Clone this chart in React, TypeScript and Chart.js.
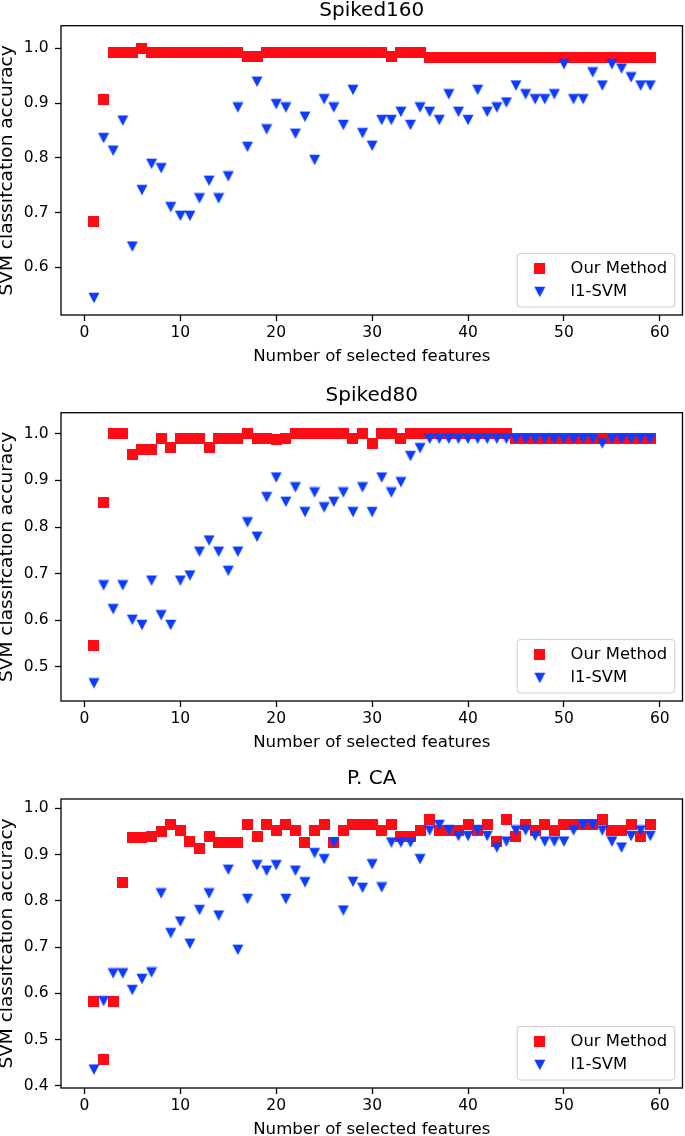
import React, { useEffect, useRef } from 'react';
import { Chart, registerables } from 'chart.js';

Chart.register(...registerables);

// ---------------- data ----------------
const features = [
  1, 2, 3, 4, 5, 6, 7, 8, 9, 10, 11, 12, 13, 14, 15, 16, 17, 18, 19, 20,
  21, 22, 23, 24, 25, 26, 27, 28, 29, 30, 31, 32, 33, 34, 35, 36, 37, 38, 39, 40,
  41, 42, 43, 44, 45, 46, 47, 48, 49, 50, 51, 52, 53, 54, 55, 56, 57, 58, 59,
];

// Spiked160
const ours1 = [
  0.684, 0.906, 0.992, 0.992, 0.992, 1.0, 0.992, 0.992, 0.992, 0.992,
  0.992, 0.992, 0.992, 0.992, 0.992, 0.992, 0.985, 0.985, 0.992, 0.992,
  0.992, 0.992, 0.992, 0.992, 0.992, 0.992, 0.992, 0.992, 0.992, 0.992,
  0.992, 0.985, 0.993, 0.993, 0.993, 0.984, 0.984, 0.984, 0.984, 0.984,
  0.984, 0.984, 0.984, 0.984, 0.984, 0.984, 0.984, 0.984, 0.984, 0.984,
  0.984, 0.984, 0.984, 0.984, 0.984, 0.984, 0.984, 0.984, 0.984,
];
const svm1 = [
  0.544, 0.836, 0.813, 0.868, 0.638, 0.741, 0.789, 0.781, 0.71, 0.694,
  0.694, 0.726, 0.758, 0.726, 0.766, 0.892, 0.82, 0.939, 0.852, 0.898,
  0.892, 0.844, 0.875, 0.796, 0.907, 0.892, 0.86, 0.924, 0.845, 0.822,
  0.869, 0.869, 0.884, 0.86, 0.892, 0.884, 0.869, 0.916, 0.884, 0.869,
  0.924, 0.884, 0.892, 0.901, 0.932, 0.916, 0.907, 0.907, 0.916, 0.971,
  0.907, 0.907, 0.956, 0.932, 0.971, 0.963, 0.947, 0.932, 0.932,
];

// Spiked80
const ours2 = [
  0.547, 0.852, 1.0, 1.0, 0.956, 0.966, 0.966, 0.99, 0.97, 0.989,
  0.99, 0.99, 0.97, 0.989, 0.989, 0.99, 1.0, 0.99, 0.99, 0.987,
  0.99, 1.0, 1.0, 1.0, 1.0, 1.0, 1.0, 0.99, 1.0, 0.979,
  1.0, 1.0, 0.989, 1.0, 1.0, 1.0, 1.0, 1.0, 1.0, 1.0,
  1.0, 1.0, 1.0, 1.0, 0.989, 0.989, 0.989, 0.989, 0.989, 0.989,
  0.989, 0.989, 0.989, 0.989, 0.989, 0.989, 0.989, 0.989, 0.989,
];
const svm2 = [
  0.465, 0.675, 0.624, 0.675, 0.601, 0.59, 0.685, 0.611, 0.59, 0.685,
  0.696, 0.747, 0.771, 0.747, 0.706, 0.747, 0.81, 0.779, 0.864, 0.906,
  0.854, 0.885, 0.832, 0.874, 0.842, 0.854, 0.874, 0.832, 0.885, 0.832,
  0.906, 0.874, 0.896, 0.952, 0.969, 0.989, 0.989, 0.989, 0.989, 0.989,
  0.989, 0.989, 0.989, 0.989, 0.989, 0.989, 0.989, 0.989, 0.989, 0.989,
  0.989, 0.989, 0.989, 0.979, 0.989, 0.989, 0.989, 0.989, 0.989,
];

// P. CA
const ours3 = [
  0.583, 0.456, 0.582, 0.839, 0.937, 0.937, 0.939, 0.95, 0.964, 0.952,
  0.928, 0.912, 0.939, 0.926, 0.926, 0.926, 0.964, 0.939, 0.964, 0.952,
  0.964, 0.952, 0.926, 0.952, 0.964, 0.926, 0.952, 0.964, 0.964, 0.964,
  0.952, 0.964, 0.939, 0.939, 0.952, 0.976, 0.952, 0.952, 0.952, 0.964,
  0.952, 0.964, 0.928, 0.976, 0.939, 0.964, 0.952, 0.964, 0.952, 0.964,
  0.964, 0.964, 0.964, 0.976, 0.952, 0.952, 0.964, 0.939, 0.964,
];
const svm3 = [
  0.435, 0.583, 0.643, 0.643, 0.607, 0.631, 0.645, 0.816, 0.73, 0.755,
  0.707, 0.78, 0.816, 0.768, 0.867, 0.694, 0.804, 0.877, 0.865, 0.877,
  0.804, 0.865, 0.84, 0.903, 0.89, 0.926, 0.779, 0.841, 0.828, 0.879,
  0.829, 0.926, 0.926, 0.926, 0.89, 0.952, 0.964, 0.952, 0.94, 0.94,
  0.952, 0.94, 0.915, 0.928, 0.952, 0.952, 0.94, 0.928, 0.928, 0.928,
  0.952, 0.964, 0.964, 0.952, 0.928, 0.915, 0.94, 0.952, 0.94,
];

const xTicks = [0, 10, 20, 30, 40, 50, 60];
const yTicks1 = [0.6, 0.7, 0.8, 0.9, 1.0];
const yTicks2 = [0.5, 0.6, 0.7, 0.8, 0.9, 1.0];
const yTicks3 = [0.4, 0.5, 0.6, 0.7, 0.8, 0.9, 1.0];

const titles = ['Spiked160', 'Spiked80', 'P. CA'];
const seriesLabels = ['Our Method', 'l1-SVM'];
const xLabel = 'Number of selected features';
const yLabel = 'SVM classifcation accuracy';

// ---------------- styling / layout ----------------
const RED = '#fe0c16';
const BLUE = '#0e3cfc';
const FONT = "'DejaVu Sans', sans-serif";
const CANVAS_W = 689;

type PanelCfg = {
  top: number;
  height: number;
  padTop: number;
  titleY: number;
  yMin: number;
  yMax: number;
  yTicks: number[];
  ours: number[];
  svm: number[];
  title: string;
};

const panels: PanelCfg[] = [
  { top: 0, height: 367, padTop: 25.7, titleY: 11, yMin: 0.5129, yMax: 1.0413, yTicks: yTicks1, ours: ours1, svm: svm1, title: titles[0] },
  { top: 367, height: 386, padTop: 45.7, titleY: 29, yMin: 0.4271, yMax: 1.045, yTicks: yTicks2, ours: ours2, svm: svm2, title: titles[1] },
  { top: 753, height: 387, padTop: 46, titleY: 26, yMin: 0.3952, yMax: 1.0201, yTicks: yTicks3, ours: ours3, svm: svm3, title: titles[2] },
];

function makeSquare(): HTMLCanvasElement {
  const c = document.createElement('canvas');
  c.width = 11;
  c.height = 11;
  const g = c.getContext('2d')!;
  g.fillStyle = RED;
  g.fillRect(0, 0, 11, 11);
  return c;
}

function makeTriangle(): HTMLCanvasElement {
  const c = document.createElement('canvas');
  c.width = 12;
  c.height = 12;
  const g = c.getContext('2d')!;
  g.fillStyle = BLUE;
  g.beginPath();
  g.moveTo(0.5, 0.75);
  g.lineTo(11.5, 0.75);
  g.lineTo(6, 11.25);
  g.closePath();
  g.fill();
  return c;
}

function Panel({ cfg }: { cfg: PanelCfg }) {
  const ref = useRef<HTMLCanvasElement | null>(null);

  useEffect(() => {
    const sq = makeSquare();
    const tri = makeTriangle();

    const framePlugin = {
      id: 'frame',
      afterDraw(chart: any) {
        const { ctx, chartArea: a } = chart;
        ctx.save();
        ctx.strokeStyle = '#000';
        ctx.lineWidth = 1.3;
        ctx.strokeRect(a.left, a.top, a.right - a.left, a.bottom - a.top);
        ctx.restore();
      },
    };

    const titlePlugin = {
      id: 'axTitle',
      afterDraw(chart: any) {
        const { ctx, chartArea: a } = chart;
        ctx.save();
        ctx.fillStyle = '#000';
        ctx.font = `20px ${FONT}`;
        ctx.textAlign = 'center';
        ctx.textBaseline = 'middle';
        ctx.fillText(cfg.title, (a.left + a.right) / 2, cfg.titleY);
        ctx.restore();
      },
    };

    const legendPlugin = {
      id: 'boxLegend',
      afterDraw(chart: any) {
        const { ctx, chartArea: a } = chart;
        const w = 157.6;
        const h = 53.4;
        const left = a.right - 7.7 - w;
        const top = a.bottom - 8 - h;
        const r = 3;
        ctx.save();
        ctx.beginPath();
        ctx.moveTo(left + r, top);
        ctx.lineTo(left + w - r, top);
        ctx.arcTo(left + w, top, left + w, top + r, r);
        ctx.lineTo(left + w, top + h - r);
        ctx.arcTo(left + w, top + h, left + w - r, top + h, r);
        ctx.lineTo(left + r, top + h);
        ctx.arcTo(left, top + h, left, top + h - r, r);
        ctx.lineTo(left, top + r);
        ctx.arcTo(left, top, left + r, top, r);
        ctx.closePath();
        ctx.fillStyle = 'rgba(255,255,255,0.8)';
        ctx.fill();
        ctx.strokeStyle = '#cccccc';
        ctx.lineWidth = 1;
        ctx.stroke();
        const rows = [top + 15, top + 38.4];
        chart.data.datasets.forEach((ds: any, i: number) => {
          const img = ds.pointStyle as HTMLCanvasElement;
          ctx.drawImage(img, left + 22.6 - img.width / 2, rows[i] - img.height / 2);
          ctx.fillStyle = '#000';
          ctx.font = `16.4px ${FONT}`;
          ctx.textAlign = 'left';
          ctx.textBaseline = 'middle';
          ctx.fillText(ds.label, left + 53.3, rows[i]);
        });
        ctx.restore();
      },
    };

    const chart = new Chart(ref.current!, {
      type: 'scatter',
      data: {
        datasets: [
          {
            label: seriesLabels[0],
            data: features.map((x, i) => ({ x, y: cfg.ours[i] })),
            pointStyle: sq as any,
            pointRadius: 5.5,
            backgroundColor: RED,
            borderColor: RED,
            order: 1,
          },
          {
            label: seriesLabels[1],
            data: features.map((x, i) => ({ x, y: cfg.svm[i] })),
            pointStyle: tri as any,
            pointRadius: 5.5,
            backgroundColor: BLUE,
            borderColor: BLUE,
            order: 0,
          },
        ],
      },
      options: {
        animation: false,
        responsive: false,
        devicePixelRatio: 1,
        events: [],
        layout: { padding: { top: cfg.padTop, right: 3, left: 0, bottom: 0 } },
        plugins: {
          legend: { display: false },
          tooltip: { enabled: false },
          title: { display: false },
        },
        scales: {
          x: {
            type: 'linear',
            min: -2.44,
            max: 62.36,
            afterBuildTicks: (s: any) => {
              s.ticks = xTicks.map((v) => ({ value: v }));
            },
            afterFit: (s: any) => {
              s.height = 52;
            },
            ticks: {
              callback: (v: any) => String(v),
              font: { family: FONT, size: 15.5 },
              color: '#000',
              padding: 3,
              maxRotation: 0,
              autoSkip: false,
            },
            grid: {
              drawOnChartArea: false,
              drawTicks: true,
              tickLength: 6,
              tickColor: '#000',
              tickWidth: 1.3,
            },
            border: { display: false },
            title: {
              display: true,
              text: xLabel,
              color: '#000',
              font: { family: FONT, size: 16.6, lineHeight: 1.2 },
              padding: 0,
            },
          },
          y: {
            type: 'linear',
            min: cfg.yMin,
            max: cfg.yMax,
            afterBuildTicks: (s: any) => {
              s.ticks = cfg.yTicks.map((v) => ({ value: v }));
            },
            afterFit: (s: any) => {
              s.width = 61;
            },
            ticks: {
              callback: (v: any) => Number(v).toFixed(1),
              font: { family: FONT, size: 15.5 },
              color: '#000',
              padding: 6.5,
              autoSkip: false,
            },
            grid: {
              drawOnChartArea: false,
              drawTicks: true,
              tickLength: 6,
              tickColor: '#000',
              tickWidth: 1.3,
            },
            border: { display: false },
            title: {
              display: true,
              text: yLabel,
              color: '#000',
              font: { family: FONT, size: 18.5, lineHeight: 0.82 },
              padding: 0,
            },
          },
        },
      },
      plugins: [framePlugin, titlePlugin, legendPlugin],
    } as any);

    return () => chart.destroy();
  }, [cfg]);

  return (
    <canvas
      ref={ref}
      width={CANVAS_W}
      height={cfg.height}
      style={{ position: 'absolute', left: 0, top: cfg.top, width: CANVAS_W, height: cfg.height }}
    />
  );
}

export default function App() {
  return (
    <div style={{ position: 'absolute', left: 0, top: 0, width: 685, height: 1136, background: '#fff', overflow: 'hidden' }}>
      {panels.map((p, i) => (
        <Panel key={i} cfg={p} />
      ))}
    </div>
  );
}
